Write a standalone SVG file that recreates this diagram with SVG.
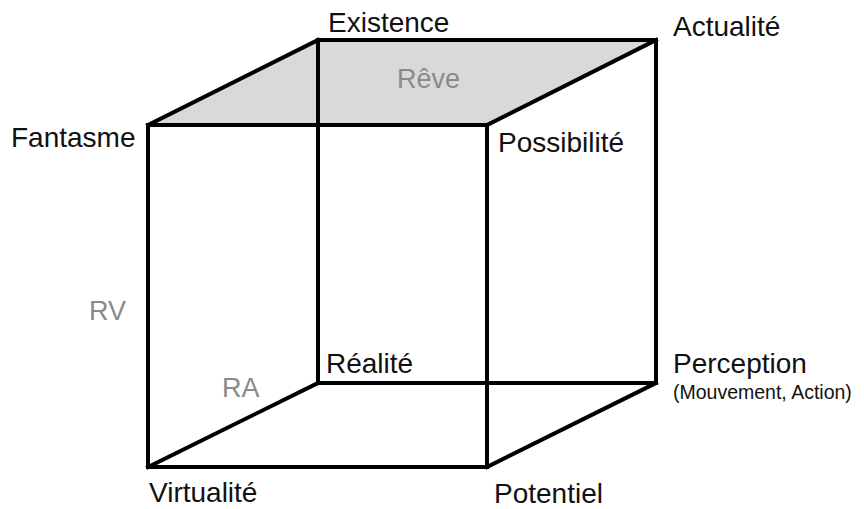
<svg xmlns="http://www.w3.org/2000/svg" width="864" height="509" viewBox="0 0 864 509">
<style>
.lbl{font-family:"Liberation Sans",Arial,sans-serif;font-size:28px;fill:#111}
.sub{font-family:"Liberation Sans",Arial,sans-serif;font-size:19.5px;fill:#111}
.gry{font-family:"Liberation Sans",Arial,sans-serif;font-size:27px;fill:#8a8a8a}
.edge{stroke:#000;stroke-width:4;fill:none;stroke-linecap:square;stroke-linejoin:miter}
</style>
<rect width="864" height="509" fill="#fff"/>
<polygon id="top-face" points="148,125 318,40 656,40 487,125" fill="#d9d9d9"/>
<g id="connectors">
<line class="edge" x1="148" y1="125" x2="487" y2="125"/>
<line class="edge" x1="148" y1="467" x2="487" y2="467"/>
<line class="edge" x1="148" y1="125" x2="148" y2="467"/>
<line class="edge" x1="487" y1="125" x2="487" y2="467"/>
<line class="edge" x1="318" y1="40" x2="656" y2="40"/>
<line class="edge" x1="318" y1="383" x2="656" y2="383"/>
<line class="edge" x1="318" y1="40" x2="318" y2="383"/>
<line class="edge" x1="656" y1="40" x2="656" y2="383"/>
<line class="edge" x1="148" y1="125" x2="318" y2="40"/>
<line class="edge" x1="487" y1="125" x2="656" y2="40"/>
<line class="edge" x1="148" y1="467" x2="318" y2="383"/>
<line class="edge" x1="487" y1="467" x2="656" y2="383"/>
</g>
<g id="existence"><text class="lbl" x="328" y="32">Existence</text></g>
<g id="actualite"><text class="lbl" x="673" y="36">Actualité</text></g>
<g id="fantasme"><text class="lbl" x="11" y="147">Fantasme</text></g>
<g id="possibilite"><text class="lbl" x="498" y="152">Possibilité</text></g>
<g id="reve"><text class="gry" x="397" y="88">Rêve</text></g>
<g id="rv"><text class="gry" x="89" y="320">RV</text></g>
<g id="realite"><text class="lbl" x="326" y="373">Réalité</text></g>
<g id="ra"><text class="gry" x="222" y="397">RA</text></g>
<g id="perception"><text class="lbl" x="673" y="373">Perception</text><text class="sub" x="673" y="399">(Mouvement, Action)</text></g>
<g id="virtualite"><text class="lbl" x="149" y="502">Virtualité</text></g>
<g id="potentiel"><text class="lbl" x="494" y="503">Potentiel</text></g>
</svg>
